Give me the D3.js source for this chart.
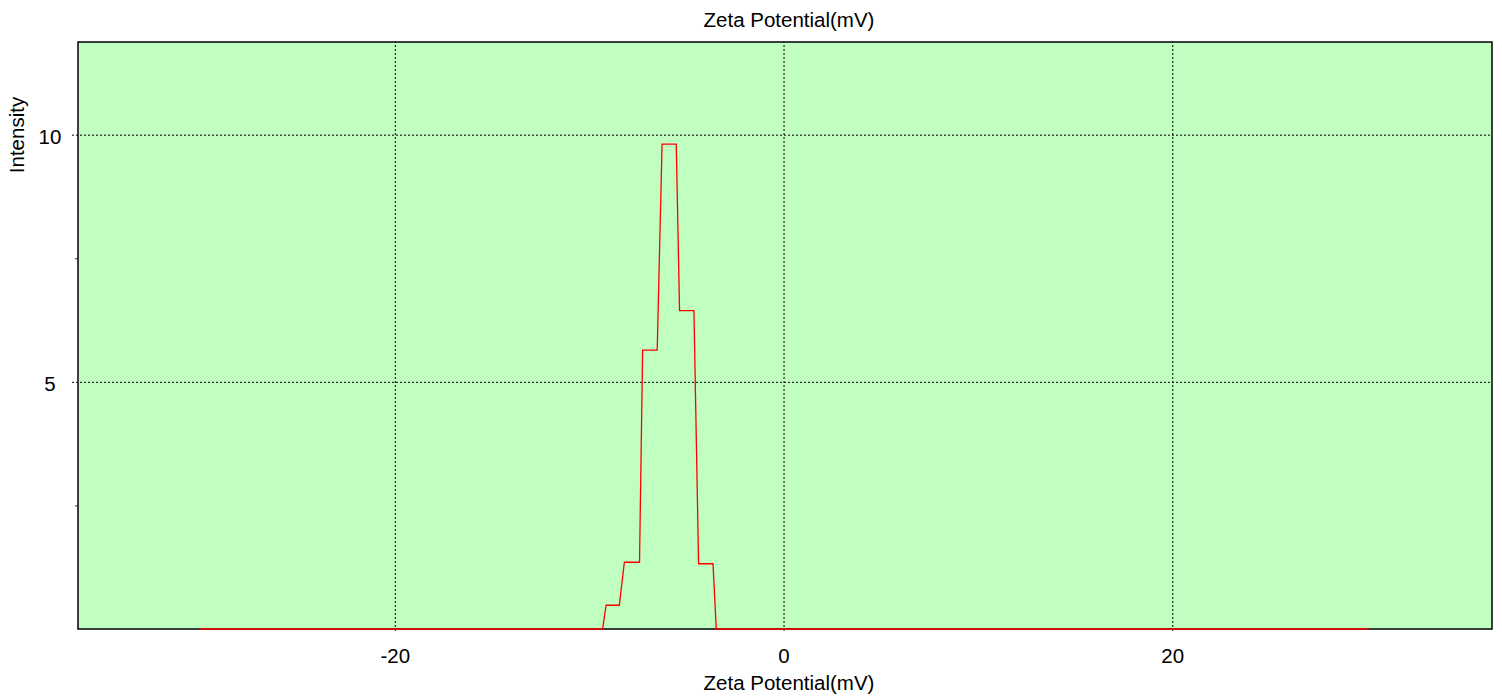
<!DOCTYPE html>
<html>
<head>
<meta charset="utf-8">
<script src="https://cdn.jsdelivr.net/npm/d3@7"></script>
<style>
  body { margin: 0; background: #fff; }
  text { font-family: "Liberation Sans", Arial, sans-serif; fill: #000; }
</style>
</head>
<body>
<div id="chart"></div>
<script>
// Zeta potential distribution
const binFrom = [-30.07, -9.13, -8.19, -7.25, -6.25, -5.35, -4.37, -3.46];
const binTo = [-9.31, -8.45, -7.41, -6.5, -5.52, -4.61, -3.63, 30.09];
const intensity = [0, 0.48, 1.35, 5.64, 9.81, 6.44, 1.32, 0];

const xTicks = [-20, 0, 20];
const yTicks = [5, 10];
const yMinorTicks = [2.5, 7.5];
const xDomain = [-36.3, 36.45];
const yDomain = [0, 11.875];
const title = "Zeta Potential(mV)";
const xTitle = "Zeta Potential(mV)";
const yTitle = "Intensity";

const config = {
  width: 1502,
  height: 696,
  margin: { top: 42, right: 10, bottom: 67, left: 78 },
  fontSize: 20.5,
};

const innerW = config.width - config.margin.left - config.margin.right;
const innerH = config.height - config.margin.top - config.margin.bottom;
const plotLeft = config.margin.left;
const plotTop = config.margin.top;
const plotBottom = plotTop + innerH;

// plain hyphen for negatives, like the original
const fmt = (d) => String(d);

const svg = d3
  .select("#chart")
  .append("svg")
  .attr("width", config.width)
  .attr("height", config.height);

const x = d3.scaleLinear().domain(xDomain).range([plotLeft, plotLeft + innerW]);
const y = d3.scaleLinear().domain(yDomain).range([plotBottom, plotTop]);

// plot background
svg
  .append("rect")
  .attr("x", plotLeft)
  .attr("y", plotTop)
  .attr("width", innerW)
  .attr("height", innerH)
  .attr("fill", "#c0ffc0");

// horizontal gridlines + labels
const yAxisG = svg
  .append("g")
  .attr("transform", `translate(${plotLeft - 6},0)`)
  .call(d3.axisLeft(y).tickValues(yTicks).tickSize(-(innerW + 6)).tickFormat(fmt));
yAxisG.select(".domain").remove();
yAxisG
  .selectAll(".tick line")
  .attr("stroke", "#000")
  .attr("stroke-width", 1)
  .attr("stroke-dasharray", "2,2");
yAxisG
  .selectAll(".tick text")
  .attr("x", 50 - (plotLeft - 6))
  .attr("dy", null)
  .attr("y", 8.5)
  .attr("text-anchor", "middle")
  .style("font-size", config.fontSize + "px")
  .attr("font-family", null);

// minor y ticks
const yMinorG = svg
  .append("g")
  .attr("transform", `translate(${plotLeft},0)`)
  .call(d3.axisLeft(y).tickValues(yMinorTicks).tickSize(3).tickFormat(""));
yMinorG.select(".domain").remove();
yMinorG.selectAll(".tick line").attr("stroke", "#333");

// vertical gridlines + labels
const xAxisG = svg
  .append("g")
  .attr("transform", `translate(0,${plotBottom + 2})`)
  .call(d3.axisBottom(x).tickValues(xTicks).tickSize(-(innerH + 2)).tickFormat(fmt));
xAxisG.select(".domain").remove();
xAxisG
  .selectAll(".tick line")
  .attr("stroke", "#000")
  .attr("stroke-width", 1)
  .attr("stroke-dasharray", "2,2");
xAxisG
  .selectAll(".tick text")
  .attr("y", 32)
  .attr("dy", null)
  .style("font-size", config.fontSize + "px")
  .attr("font-family", null);

// frame
svg
  .append("rect")
  .attr("x", plotLeft)
  .attr("y", plotTop)
  .attr("width", innerW)
  .attr("height", innerH)
  .attr("fill", "none")
  .attr("stroke", "#000")
  .attr("stroke-width", 1.5);

// data line: each bin drawn flat from its start to its end
const points = [];
intensity.forEach((v, i) => {
  points.push([binFrom[i], v]);
  points.push([binTo[i], v]);
});

svg
  .append("path")
  .datum(points)
  .attr("fill", "none")
  .attr("stroke", "#ff0000")
  .attr("stroke-width", 1.3)
  .attr(
    "d",
    d3
      .line()
      .x((d) => x(d[0]))
      .y((d) => y(d[1]))
  );

// titles
svg
  .append("text")
  .attr("x", 789)
  .attr("y", 27)
  .attr("text-anchor", "middle")
  .style("font-size", config.fontSize + "px")
  .text(title);

svg
  .append("text")
  .attr("x", 789)
  .attr("y", 690)
  .attr("text-anchor", "middle")
  .style("font-size", config.fontSize + "px")
  .text(xTitle);

svg
  .append("text")
  .attr("transform", `translate(24,135) rotate(-90)`)
  .attr("text-anchor", "middle")
  .style("font-size", config.fontSize + "px")
  .text(yTitle);
</script>
</body>
</html>
